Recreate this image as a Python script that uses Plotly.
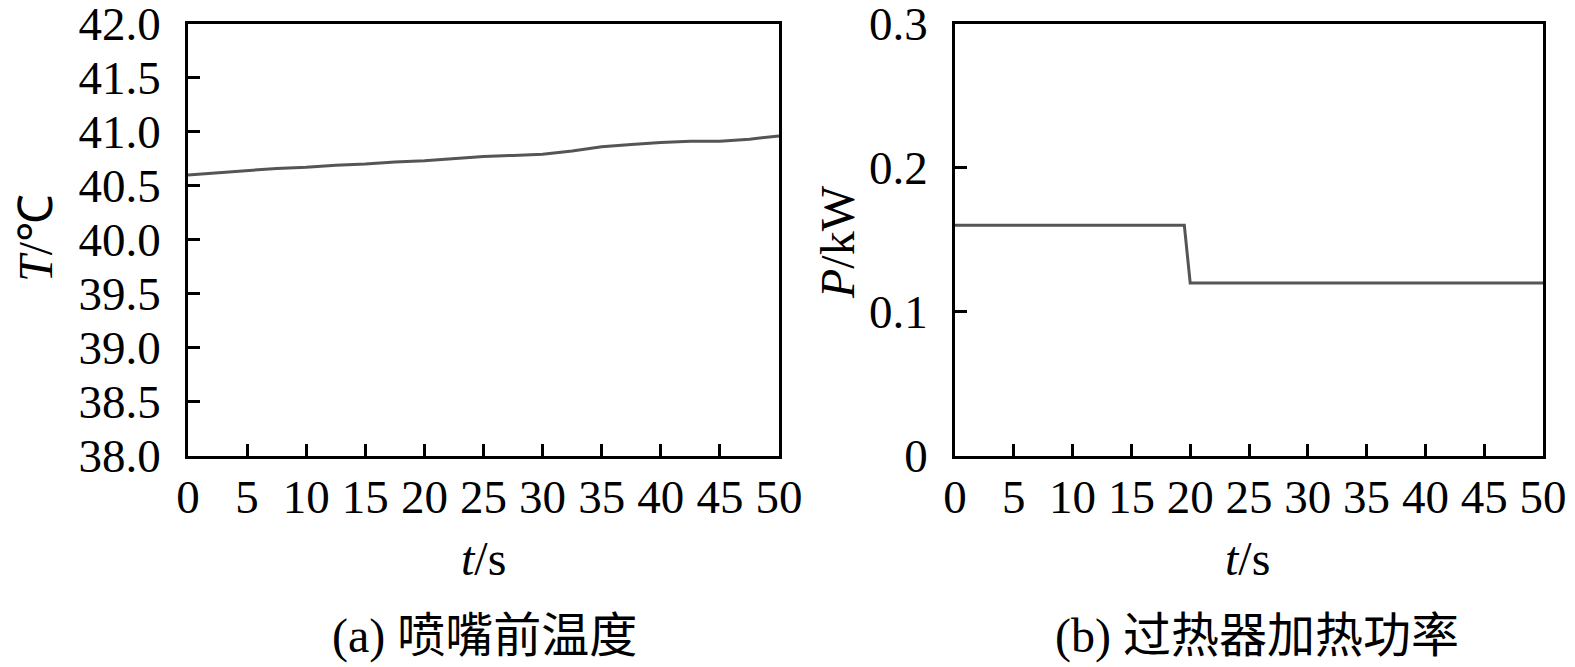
import plotly.graph_objects as go

# Left panel: temperature before nozzle
t_a = [0, 2.5, 5, 7.5, 10, 12.5, 15, 17.5, 20, 22.5, 25, 27.5, 30, 32.5, 35, 37.5, 40, 42.5, 45, 47.5, 50]
T_a = [40.60, 40.62, 40.64, 40.66, 40.67, 40.69, 40.70, 40.72, 40.73, 40.75, 40.77, 40.78, 40.79,
       40.82, 40.86, 40.88, 40.90, 40.91, 40.91, 40.93, 40.96]

# Right panel: superheater heating power
t_b = [0, 19.5, 20.0, 50]
P_b = [0.16, 0.16, 0.12, 0.12]

x_ticks = [0, 5, 10, 15, 20, 25, 30, 35, 40, 45, 50]
yA_ticks = [38.0, 38.5, 39.0, 39.5, 40.0, 40.5, 41.0, 41.5, 42.0]
yA_labels = ["38.0", "38.5", "39.0", "39.5", "40.0", "40.5", "41.0", "41.5", "42.0"]
yB_ticks = [0, 0.1, 0.2, 0.3]
yB_labels = ["0", "0.1", "0.2", "0.3"]

OFF = 8  # default page body margin
W, H = 1575 - OFF, 667 - OFF
LINE = "#555555"
FONT = "Liberation Serif, Times New Roman, serif"
CJK = "Liberation Serif, Noto Sans CJK SC, serif"

def px(x):
    return (x - OFF) / W

def py(y):
    return 1 - (y - OFF) / H

fig = go.Figure()
fig.add_trace(go.Scatter(x=t_a, y=T_a, mode="lines", line=dict(color=LINE, width=3),
                         xaxis="x", yaxis="y", showlegend=False))
fig.add_trace(go.Scatter(x=t_b, y=P_b, mode="lines", line=dict(color=LINE, width=3),
                         xaxis="x2", yaxis="y2", showlegend=False))

yb0, yb1 = py(456), py(23.5)

common_axis = dict(showline=True, linecolor="black", linewidth=2.5, mirror=True,
                   ticks="inside", ticklen=12, tickwidth=2.5, tickcolor="black",
                   showgrid=False, zeroline=False, automargin=False,
                   ticklabeloverflow="allow",
                   tickfont=dict(family=FONT, size=47, color="black"))

XSO, YSO = -2, 15

fig.update_layout(
    width=W, height=H,
    margin=dict(l=0, r=0, t=0, b=0),
    paper_bgcolor="white", plot_bgcolor="white",
    xaxis=dict(domain=[px(188), px(779)], anchor="y", range=[0, 50], tickvals=x_ticks,
               ticklabelstandoff=XSO, **common_axis),
    yaxis=dict(domain=[yb0, yb1], anchor="x", range=[38, 42], tickvals=yA_ticks,
               ticktext=yA_labels, ticklabelstandoff=YSO, **common_axis),
    xaxis2=dict(domain=[px(955), px(1543)], anchor="y2", range=[0, 50], tickvals=x_ticks,
                ticklabelstandoff=XSO, **common_axis),
    yaxis2=dict(domain=[yb0, yb1], anchor="x2", range=[0, 0.3], tickvals=yB_ticks,
                ticktext=yB_labels, ticklabelstandoff=YSO, **common_axis),
)

def ann(text, x, y, angle=0, font=FONT, size=48):
    fig.add_annotation(text=text, x=px(x), y=py(y), xref="paper", yref="paper",
                       showarrow=False, textangle=angle, xanchor="center", yanchor="middle",
                       font=dict(family=font, size=size, color="black"))

ann("<i>T</i>/℃", 35, 238, angle=-90)
ann("<i>P</i>/kW", 837, 242, angle=-90)
ann("<i>t</i>/s", 483, 558)
ann("<i>t</i>/s", 1247, 558)
ann("(a) 喷嘴前温度", 484, 636, font=CJK)
ann("(b) 过热器加热功率", 1257, 636, font=CJK)

fig.write_html("out.html")
